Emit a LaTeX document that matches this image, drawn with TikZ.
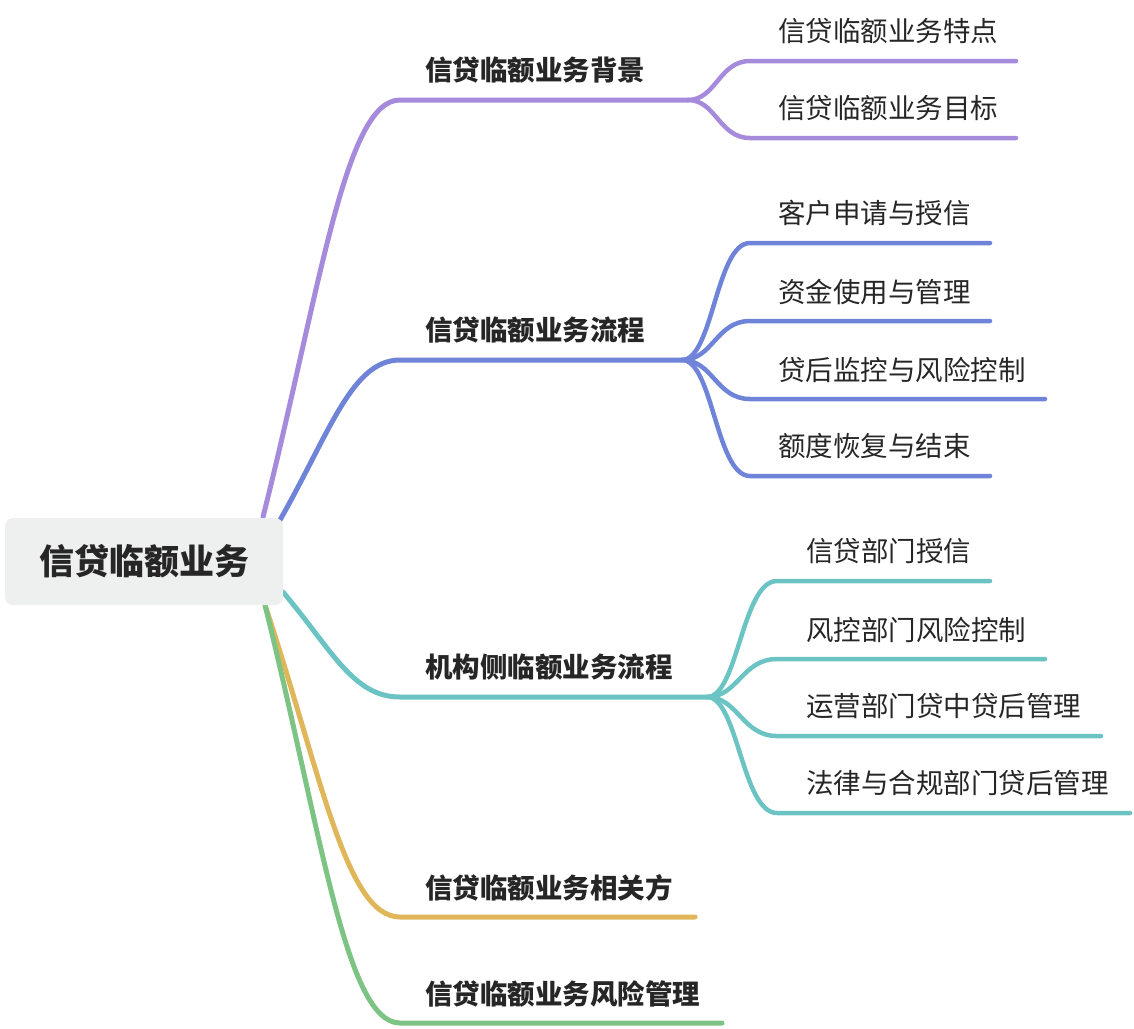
\documentclass[tikz,border=0pt]{standalone}
\usepackage{fontspec}
\newfontfamily\cjk{Noto Sans CJK SC}
\usetikzlibrary{backgrounds}
\definecolor{cpurple}{HTML}{A68BDC}
\definecolor{cblue}{HTML}{6F84D8}
\definecolor{cteal}{HTML}{6CC3C3}
\definecolor{cyellow}{HTML}{E0B65A}
\definecolor{cgreen}{HTML}{7CC384}
\definecolor{ctext}{HTML}{262626}
\definecolor{rootfill}{HTML}{EEF0EF}
\begin{document}
\begin{tikzpicture}[x=1pt,y=-1pt,
  link/.style={line width=5pt, line cap=round},
  sublink/.style={line width=4.5pt, line cap=round},
  rootbox/.style={fill=rootfill, rounded corners=8pt, minimum width=278pt, minimum height=87pt, inner sep=0pt, text=ctext, font=\cjk\bfseries\fontsize{35}{40}\selectfont},
  topic/.style={anchor=west, inner sep=0pt, text=ctext, font=\cjk\bfseries\fontsize{27.5}{30}\selectfont},
  sub/.style={anchor=west, inner sep=0pt, text=ctext, font=\cjk\fontsize{27.5}{30}\selectfont}]
\useasboundingbox (0,0) rectangle (1134,1028);

% root
\node[rootbox] (root) at (144,561.5) {信贷临额业务};

% topics
\node[topic] (b1) at (425,70.5) {信贷临额业务背景};
\node[topic] (b2) at (425,330) {信贷临额业务流程};
\node[topic] (b3) at (425,667.5) {机构侧临额业务流程};
\node[topic] (b4) at (425,887.5) {信贷临额业务相关方};
\node[topic] (b5) at (425,993.5) {信贷临额业务风险管理};

% subtopics
\node[sub] (c11) at (778,31.5) {信贷临额业务特点};
\node[sub] (c12) at (778,108.5) {信贷临额业务目标};
\node[sub] (c21) at (778,213.5) {客户申请与授信};
\node[sub] (c22) at (778,291.5) {资金使用与管理};
\node[sub] (c23) at (778,369.5) {贷后监控与风险控制};
\node[sub] (c24) at (778,446.5) {额度恢复与结束};
\node[sub] (c31) at (806,551.5) {信贷部门授信};
\node[sub] (c32) at (806,629.5) {风控部门风险控制};
\node[sub] (c33) at (806,706.5) {运营部门贷中贷后管理};
\node[sub] (c34) at (806,783.5) {法律与合规部门贷后管理};

% connector points
\coordinate (s1) at (263,517);  \coordinate (k1) at (400,100);  \coordinate (e1) at (688,100);
\coordinate (s2) at (280,520);  \coordinate (k2) at (400,360);  \coordinate (e2) at (682,360);
\coordinate (s3) at (283,592);  \coordinate (k3) at (400,697);  \coordinate (e3) at (707,697);
\coordinate (s4) at (265,605);  \coordinate (k4) at (400,917);  \coordinate (e4) at (695,917);
\coordinate (s5) at (265,605);  \coordinate (k5) at (400,1023); \coordinate (e5) at (722,1023);

\coordinate (k11) at (750,61);  \coordinate (e11) at (1016,61);
\coordinate (k12) at (750,138); \coordinate (e12) at (1016,138);
\coordinate (k21) at (750,243); \coordinate (e21) at (990,243);
\coordinate (k22) at (750,321); \coordinate (e22) at (990,321);
\coordinate (k23) at (750,399); \coordinate (e23) at (1045,399);
\coordinate (k24) at (750,476); \coordinate (e24) at (990,476);
\coordinate (k31) at (777,581); \coordinate (e31) at (990,581);
\coordinate (k32) at (777,659); \coordinate (e32) at (1045,659);
\coordinate (k33) at (777,736); \coordinate (e33) at (1101,736);
\coordinate (k34) at (777,813); \coordinate (e34) at (1130,813);

\begin{scope}[on background layer]
\draw[link, cpurple] (s1) .. controls (320.5,288) and (345,100) .. (k1) -- (e1);
\draw[link, cblue]   (s2) .. controls (330,432) and (352,360) .. (k2) -- (e2);
\draw[link, cteal]   (s3) .. controls (332,650) and (353,697) .. (k3) -- (e3);
\draw[link, cyellow] (s4) .. controls (322,777) and (346,917) .. (k4) -- (e4);
\draw[link, cgreen]  (s5) .. controls (322,835) and (346,1023) .. (k5) -- (e5);
\end{scope}

% purple children
\draw[sublink, cpurple] (e1) .. controls (716,100) and (719,61) .. (k11) -- (e11);
\draw[sublink, cpurple] (e1) .. controls (716,100) and (719,138) .. (k12) -- (e12);
% blue children
\draw[sublink, cblue] (e2) .. controls (713,360) and (716,243) .. (k21) -- (e21);
\draw[sublink, cblue] (e2) .. controls (713,360) and (716,321) .. (k22) -- (e22);
\draw[sublink, cblue] (e2) .. controls (713,360) and (716,399) .. (k23) -- (e23);
\draw[sublink, cblue] (e2) .. controls (713,360) and (716,476) .. (k24) -- (e24);
% teal children
\draw[sublink, cteal] (e3) .. controls (738,697) and (742,581) .. (k31) -- (e31);
\draw[sublink, cteal] (e3) .. controls (738,697) and (742,659) .. (k32) -- (e32);
\draw[sublink, cteal] (e3) .. controls (738,697) and (742,736) .. (k33) -- (e33);
\draw[sublink, cteal] (e3) .. controls (738,697) and (742,813) .. (k34) -- (e34);
\end{tikzpicture}
\end{document}
